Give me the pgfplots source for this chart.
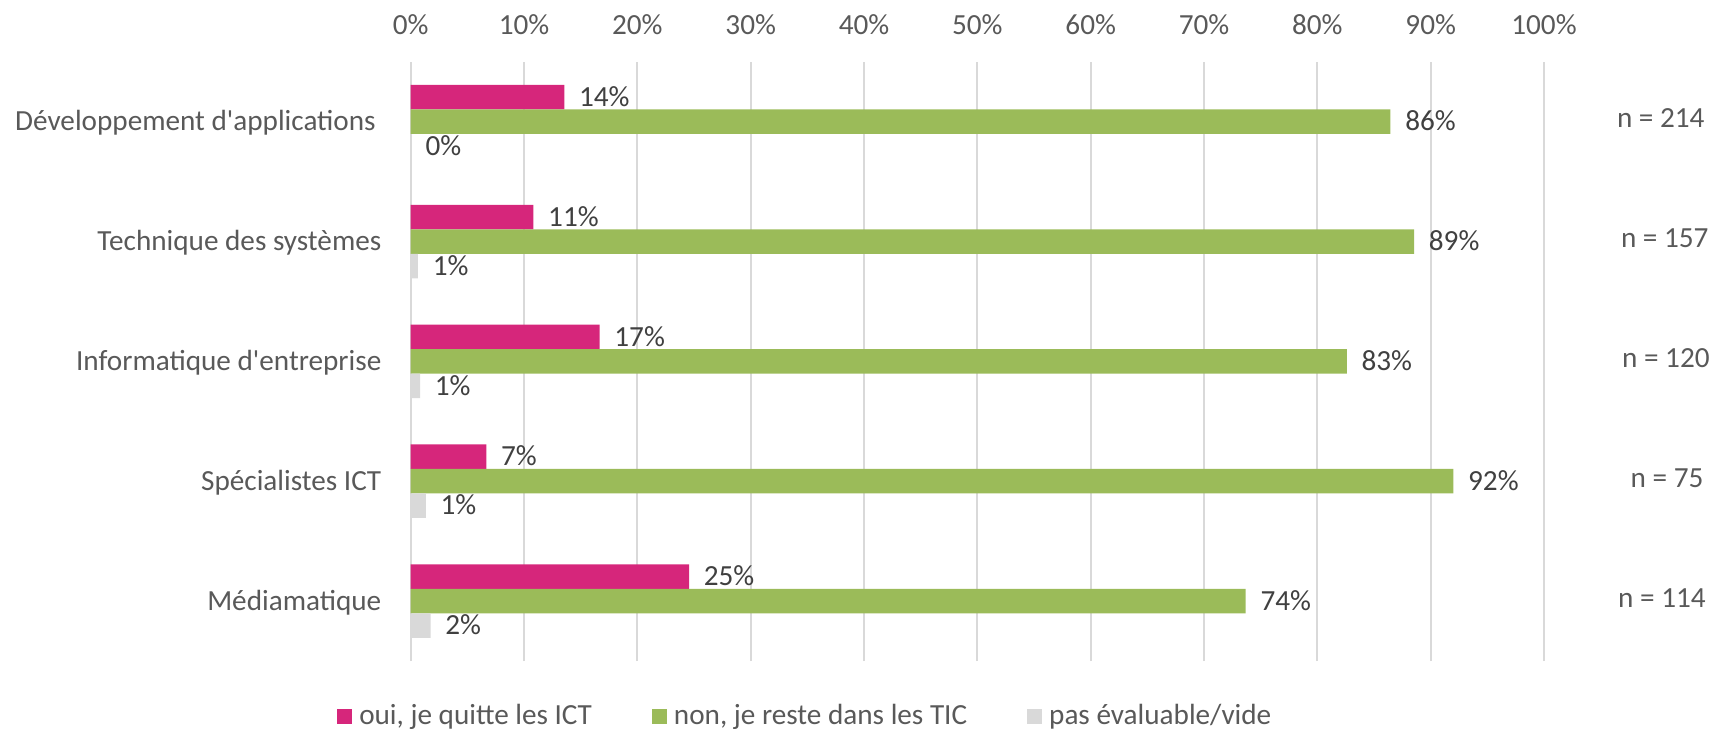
\documentclass[border=0pt]{standalone}
\usepackage{fontspec}
\setmainfont{Carlito}
\usepackage{pgfplots}
\pgfplotsset{compat=1.18}
\definecolor{pinkc}{HTML}{D6267B}
\definecolor{greenc}{HTML}{9BBB59}
\definecolor{grayc}{HTML}{D9D9D9}
\definecolor{txtgray}{HTML}{595959}
\definecolor{lblgray}{HTML}{404040}
\begin{document}
\fontsize{14.6pt}{17.5pt}\selectfont
\begin{tikzpicture}
\path[use as bounding box] (0,0) rectangle (863.5pt,365pt);
\begin{axis}[
  at={(205.35pt,34.5pt)}, anchor=south west,
  scale only axis, width=566.65pt, height=299.65pt,
  xbar,
  bar width=12.25pt,
  xmin=0, xmax=100, ymin=-0.5, ymax=4.5,
  /pgf/number format/assume math mode=true,
  axis line style={draw=none},
  tick style={draw=none},
  major tick length=0pt,
  xmajorgrids, ymajorgrids=false,
  grid style={color=grayc, line width=0.9pt},
  xtick={0,10,...,100},
  xticklabel={\pgfmathprintnumber{\tick}\%},
  xticklabel pos=upper,
  xticklabel style={anchor=base, inner sep=0pt, yshift=13.8pt, text=txtgray},
  ytick={0,1,2,3,4},
  yticklabels={Médiamatique, Spécialistes ICT, Informatique d\textquotesingle entreprise, Technique des systèmes, Développement d\textquotesingle applications\hspace*{2.8pt}},
  yticklabel style={anchor=base east, inner sep=0pt, xshift=-14.5pt, yshift=-4.5pt, text=txtgray},
  clip=false,
  nodes near coords={\pgfmathprintnumber[fixed,precision=0]{\pgfplotspointmeta}\%},
  every node near coord/.append style={anchor=base west, inner sep=0pt, xshift=7.2pt, yshift=-4.6pt, text=lblgray},
  legend image code/.code={\fill[#1] (0pt,-3.75pt) rectangle (7.5pt,3.75pt);},
  legend columns=3,
  legend style={at={(-0.0648,-0.0925)}, anchor=west, draw=none, fill=none, inner sep=0pt, outer sep=0pt,
    nodes={inner sep=0pt, text=txtgray},
    /tikz/every odd column/.append style={column sep=3.5pt},
    /tikz/every even column/.append style={column sep=30pt}},
]
\addplot[fill=pinkc, draw=none, bar shift=12.25pt] coordinates {
  (24.56,0) (6.67,1) (16.67,2) (10.83,3) (13.55,4)};
\addlegendentry{oui, je quitte les ICT}
\addplot[fill=greenc, draw=none, bar shift=0pt] coordinates {
  (73.68,0) (92.0,1) (82.6,2) (88.54,3) (86.45,4)};
\addlegendentry{non, je reste dans les TIC}
\addplot[fill=grayc, draw=none, bar shift=-12.25pt] coordinates {
  (1.75,0) (1.33,1) (0.83,2) (0.64,3) (0,4)};
\addlegendentry{pas évaluable/vide}
\node[anchor=base east, inner sep=0pt, yshift=-3pt, text=txtgray] at (axis cs:114.2,4) {n = 214};
\node[anchor=base east, inner sep=0pt, yshift=-3pt, text=txtgray] at (axis cs:114.55,3) {n = 157};
\node[anchor=base east, inner sep=0pt, yshift=-3pt, text=txtgray] at (axis cs:114.65,2) {n = 120};
\node[anchor=base east, inner sep=0pt, yshift=-3pt, text=txtgray] at (axis cs:114.1,1) {n = 75};
\node[anchor=base east, inner sep=0pt, yshift=-3pt, text=txtgray] at (axis cs:114.3,0) {n = 114};
\end{axis}
\end{tikzpicture}
\end{document}
